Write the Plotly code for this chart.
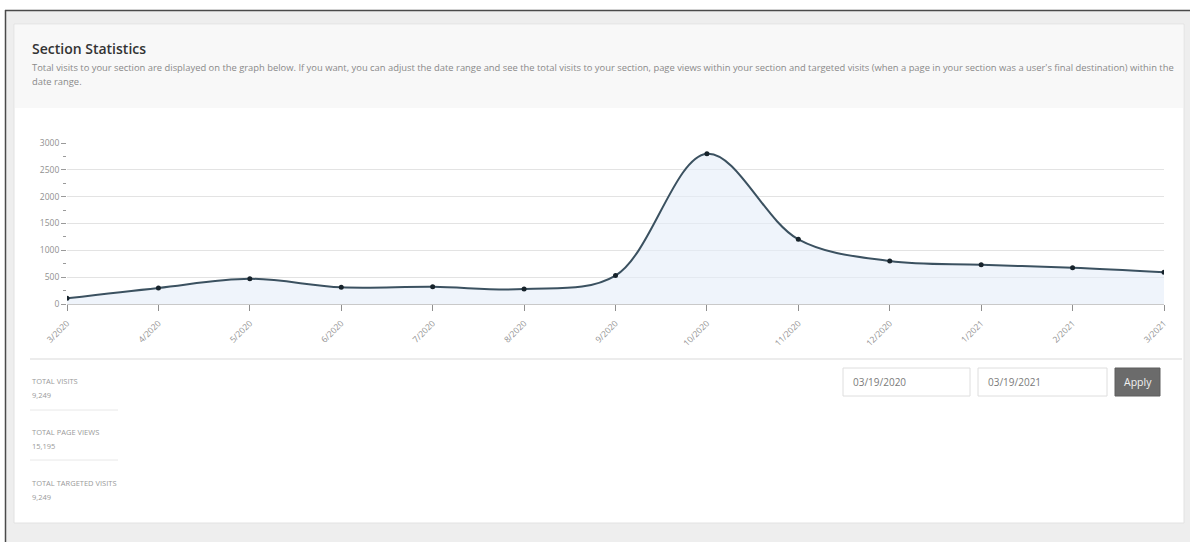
import plotly.graph_objects as go

# ---- data ----
months = ["3/2020", "4/2020", "5/2020", "6/2020", "7/2020", "8/2020", "9/2020",
          "10/2020", "11/2020", "12/2020", "1/2021", "2/2021", "3/2021"]
visits = [105, 300, 470, 310, 320, 280, 530, 2800, 1205, 800, 730, 675, 590]

stat_labels = ["TOTAL VISITS", "TOTAL PAGE VIEWS", "TOTAL TARGETED VISITS"]
stat_values = ["9,249", "15,195", "9,249"]
date_from = "03/19/2020"
date_to = "03/19/2021"

W, H = 1190, 542
FONT = "Open Sans"


def px(x):
    return x / W


def py(y):
    return 1 - y / H


fig = go.Figure()

fig.add_trace(go.Scatter(
    x=months, y=visits, mode="lines+markers",
    line=dict(color="#3b5160", width=2, shape="spline", smoothing=1.0),
    marker=dict(color="#17232b", size=5),
    fill="tozeroy", fillcolor="rgba(228,236,248,0.6)",
    hoverinfo="x+y", showlegend=False,
))

shapes = []


def rect(x0, y0, x1, y1, fill, line=None, lw=0):
    shapes.append(dict(type="rect", xref="paper", yref="paper",
                       x0=px(x0), x1=px(x1), y0=py(y0), y1=py(y1),
                       fillcolor=fill, line=dict(color=line or fill, width=lw),
                       layer="below"))


def hline(x0, x1, y, color, w=1):
    shapes.append(dict(type="line", xref="paper", yref="paper",
                       x0=px(x0), x1=px(x1), y0=py(y), y1=py(y),
                       line=dict(color=color, width=w), layer="below"))


def vline(x, y0, y1, color, w=1):
    shapes.append(dict(type="line", xref="paper", yref="paper",
                       x0=px(x), x1=px(x), y0=py(y0), y1=py(y1),
                       line=dict(color=color, width=w), layer="below"))


# page background below the outer frame
rect(5, 10, 1190, 542, "#eeeeee")
# panel
rect(14, 24, 1184, 523, "#ffffff", "#e2e2e2", 1)
# header area
rect(15, 25, 1183, 108, "#f8f8f8")
# outer dark frame
hline(5, 1190, 10.5, "#4a4a4a", 1.5)
vline(5.5, 10, 542, "#4a4a4a", 1.5)
# divider under chart
hline(30, 1182, 359, "#e6e6e6", 1.5)
# stat separators
hline(30, 118, 410, "#e8e8e8", 1)
hline(30, 118, 460, "#e8e8e8", 1)
# date inputs
rect(843, 368, 970, 396, "#ffffff", "#dedede", 1)
rect(978, 368, 1107, 396, "#ffffff", "#dedede", 1)
rect(1115, 368, 1160, 396, "#6b6b6b", "#5e5e5e", 1)

annotations = []


def text(x, y, s, size, color, weight="normal", anchor="left"):
    annotations.append(dict(xref="paper", yref="paper", x=px(x), y=py(y),
                            text=s, showarrow=False, xanchor=anchor,
                            yanchor="middle",
                            font=dict(family=FONT, size=size, color=color,
                                      weight=weight)))


text(30, 48, "Section Statistics", 14, "#333333", weight=600)
text(30, 67, "Total visits to your section are displayed on the graph below. If you want, you can adjust the date range "
     "and see the total visits to your section, page views within your section and targeted visits (when a page in "
     "your section was a user's final destination) within the", 9.4, "#8a8a8a")
text(30, 82, "date range.", 9.4, "#8a8a8a")

ys = [381, 432, 483]
for lab, val, y in zip(stat_labels, stat_values, ys):
    text(30, y, lab, 7.5, "#9a9a9a")
    text(30, y + 14, val, 7.5, "#9a9a9a")

text(851, 382, date_from, 10, "#7a7a7a")
text(986, 382, date_to, 10, "#7a7a7a")
text(1137.5, 382, "Apply", 10.5, "#f2f2f2", anchor="center")

fig.update_layout(
    width=W, height=H,
    margin=dict(l=0, r=0, t=0, b=0, autoexpand=False),
    paper_bgcolor="#ffffff",
    plot_bgcolor="rgba(0,0,0,0)",
    shapes=shapes,
    annotations=annotations,
    font=dict(family=FONT, size=8, color="#8c8c8c"),
    xaxis=dict(
        domain=[px(67), px(1164)],
        type="category",
        range=[0, len(months) - 1],
        showgrid=False,
        showline=True, linecolor="#c9c9c9", linewidth=1,
        ticks="outside", ticklen=6, tickcolor="#8f8f8f", tickwidth=1,
        tickangle=-45,
        ticklabelstandoff=4,
        tickfont=dict(family=FONT, size=8.5, color="#909090"),
        zeroline=False,
        fixedrange=True,
    ),
    yaxis=dict(
        domain=[py(304), py(143)],
        range=[0, 3000],
        dtick=500, tick0=0,
        tickformat="d",
        showgrid=True, gridcolor="#e3e3e3", gridwidth=1,
        ticks="outside", ticklen=5, tickcolor="#9a9a9a",
        minor=dict(dtick=250, ticks="outside", ticklen=3, tickcolor="#9a9a9a", showgrid=False),
        tickfont=dict(family=FONT, size=8.5, color="#909090"),
        zeroline=False,
        showline=False,
        fixedrange=True,
    ),
)

fig.write_html("out.html")
